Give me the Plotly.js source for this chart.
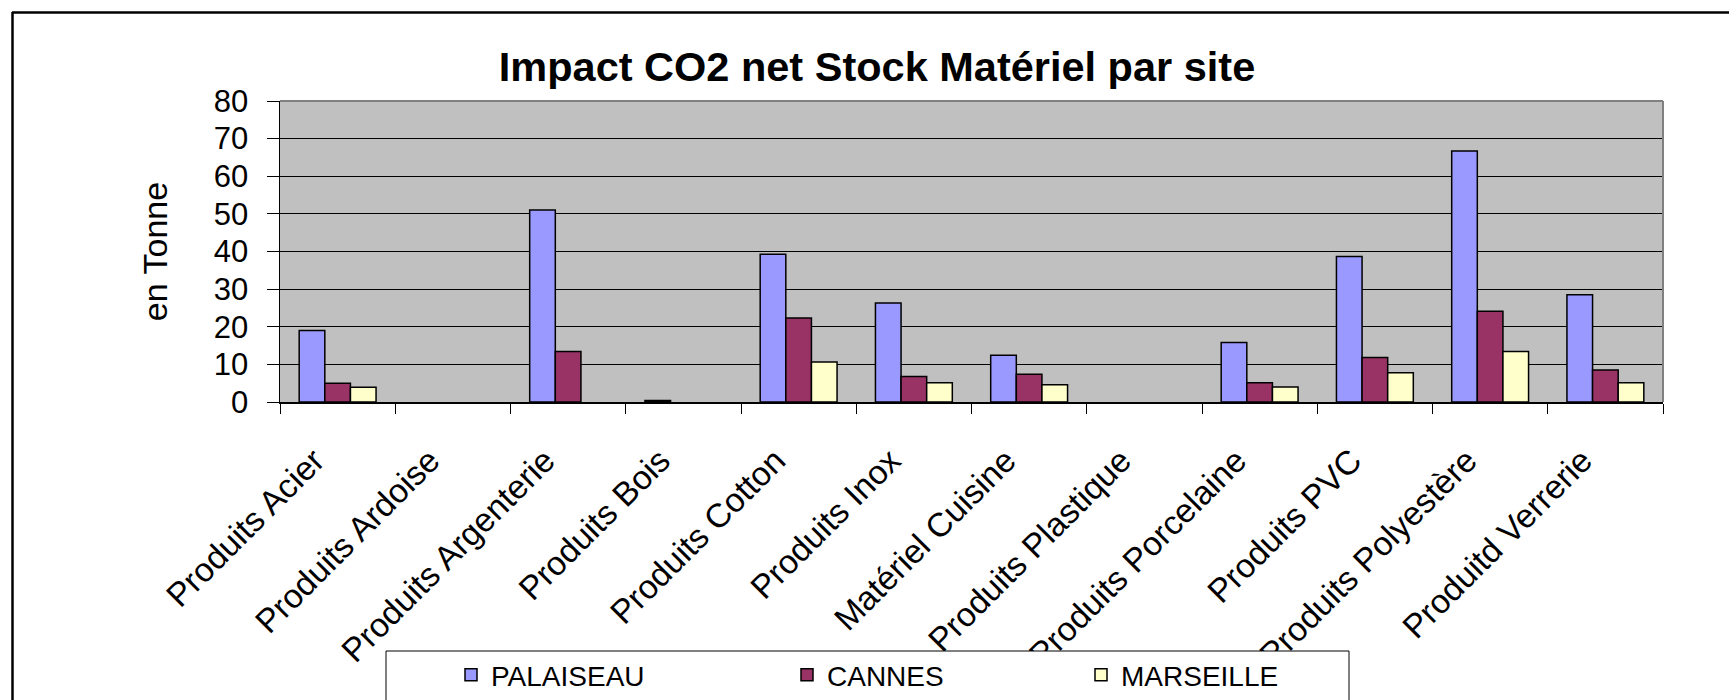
<!DOCTYPE html>
<html>
<head>
<meta charset="utf-8">
<script src="https://cdn.plot.ly/plotly-3.0.1.min.js"></script>
<style>
  html, body { margin: 0; padding: 0; background: #ffffff; }
  #chart { width: 1729px; height: 700px; }
</style>
</head>
<body>
<div id="chart"></div>
<script>
const categories = [
  "Produits Acier", "Produits Ardoise", "Produits Argenterie", "Produits Bois",
  "Produits Cotton", "Produits Inox", "Matériel Cuisine", "Produits Plastique",
  "Produits Porcelaine", "Produits PVC", "Produits Polyestère", "Produitd Verrerie"
];
const palaiseau = [19.0, null, 51.0, 0.4, 39.3, 26.3, 12.4, null, 15.8, 38.7, 66.7, 28.5];
const cannes    = [5.0, null, 13.4, null, 22.3, 6.8, 7.4, null, 5.1, 11.8, 24.1, 8.5];
const marseille = [3.9, null, null, null, 10.6, 5.1, 4.6, null, 4.0, 7.8, 13.4, 5.1];
const seriesNames = ["PALAISEAU", "CANNES", "MARSEILLE"];
const seriesColors = ["#9999FF", "#993366", "#FFFFCC"];
const yTickVals = [0, 10, 20, 30, 40, 50, 60, 70, 80];

const FONT = "Liberation Sans, Arial, sans-serif";
const seriesData = [palaiseau, cannes, marseille];
const legendIds = ["legend", "legend2", "legend3"];

const traces = seriesData.map((vals, i) => ({
  type: "bar",
  name: seriesNames[i],
  x: categories,
  y: vals,
  legend: legendIds[i],
  marker: { color: seriesColors[i], line: { color: "#000000", width: 1.5 } },
  hoverinfo: "x+y+name"
}));

// plot area: x 280..1663, y 101..402 (px)
const L = 280, R = 1663, T = 101, B = 402, W = 1729, H = 700;
const px = v => (v - L) / (R - L);
const py = v => (B - v) / (B - T);

function legendBox(xpx) {
  return { x: px(xpx), y: py(675), xanchor: "left", yanchor: "middle",
    orientation: "h", bgcolor: "rgba(0,0,0,0)", borderwidth: 0,
    font: { family: FONT, size: 28, color: "#000000" } };
}

const layout = {
  width: W, height: H,
  margin: { l: L, r: W - R, t: T, b: H - B, pad: 0, autoexpand: false },
  paper_bgcolor: "#ffffff",
  plot_bgcolor: "#C0C0C0",
  font: { family: FONT, color: "#000000" },
  title: {
    text: "<b>Impact CO2 net Stock Matériel par site</b>",
    font: { family: FONT, size: 41.5, color: "#000000" },
    xref: "container", yref: "container",
    x: 877 / W, y: 1 - 66 / H, xanchor: "center", yanchor: "middle"
  },
  barmode: "group",
  bargap: 0.333,
  bargroupgap: 0,
  xaxis: {
    type: "category",
    tickangle: -45,
    tickson: "boundaries",
    ticks: "outside", ticklen: 10, tickcolor: "#000000", tickwidth: 1,
    showline: true, linecolor: "#000000", linewidth: 1.5,
    showgrid: false, zeroline: false,
    ticklabelstandoff: 24,
    ticklabelshift: -23,
    tickfont: { family: FONT, size: 33.5, color: "#000000" },
    automargin: false, fixedrange: true
  },
  yaxis: {
    range: [0, 80],
    tickvals: yTickVals,
    ticks: "outside", ticklen: 12, tickcolor: "#000000", tickwidth: 1,
    showline: true, linecolor: "#000000", linewidth: 1.5,
    showgrid: true, gridcolor: "#000000", gridwidth: 1,
    zeroline: false,
    ticklabelstandoff: 12,
    tickfont: { family: FONT, size: 31, color: "#000000" },
    title: { text: "en Tonne", font: { family: FONT, size: 34, color: "#000000" }, standoff: 36 },
    automargin: false, fixedrange: true
  },
  legend: legendBox(451),
  legend2: legendBox(787),
  legend3: legendBox(1081),
  showlegend: true,
  shapes: [
    { type: "line", xref: "paper", yref: "paper", x0: 0, x1: 1, y0: 1, y1: 1, line: { color: "#808080", width: 2 }, layer: "above" },
    { type: "line", xref: "paper", yref: "paper", x0: 1, x1: 1, y0: 0, y1: 1, line: { color: "#808080", width: 2 }, layer: "above" },
    { type: "rect", xref: "paper", yref: "paper", x0: px(386), x1: px(1349), y0: py(651), y1: py(760), line: { color: "#000000", width: 1 }, fillcolor: "#ffffff", layer: "above" },
    { type: "line", xref: "paper", yref: "paper", x0: px(12), x1: px(1760), y0: py(12.5), y1: py(12.5), line: { color: "#000000", width: 2.5 } },
    { type: "line", xref: "paper", yref: "paper", x0: px(12.5), x1: px(12.5), y0: py(12), y1: py(760), line: { color: "#000000", width: 2.5 } }
  ]
};

Plotly.newPlot("chart", traces, layout, { displayModeBar: false, staticPlot: true });
</script>
</body>
</html>
